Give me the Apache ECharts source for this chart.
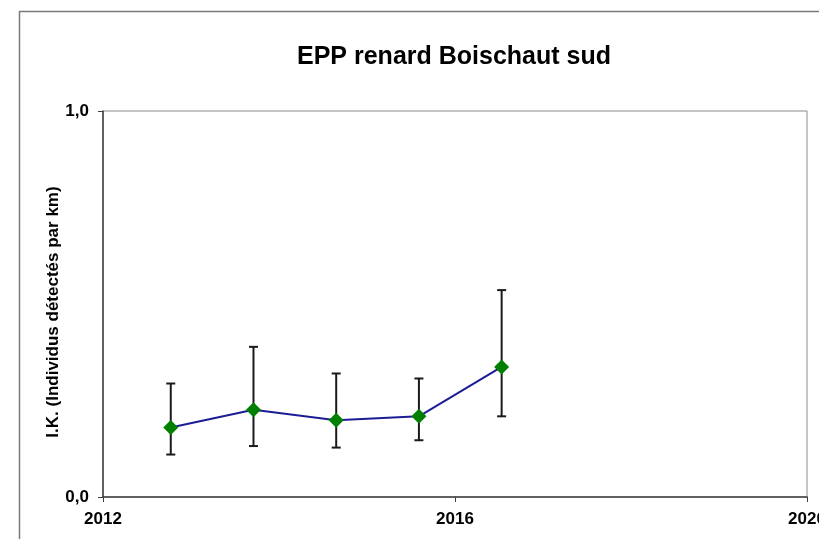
<!DOCTYPE html>
<html>
<head>
<meta charset="utf-8">
<script src="https://cdn.jsdelivr.net/npm/echarts@6/dist/echarts.min.js"></script>
<style>
html,body{margin:0;padding:0;background:#fff;}
#chart{width:819px;height:539px;}
</style>
</head>
<body>
<div id="chart"></div>
<script>
const title = 'EPP renard Boischaut sud';
const yAxisName = 'I.K. (Individus détectés par km)';
const years = [2012.77, 2013.71, 2014.65, 2015.59, 2016.53];
const values = [0.180, 0.226, 0.199, 0.209, 0.337];
const errLow = [0.110, 0.132, 0.128, 0.147, 0.209];
const errHigh = [0.294, 0.389, 0.320, 0.307, 0.536];

const chart = echarts.init(document.getElementById('chart'));
const lineData = years.map((x, i) => [x, values[i]]);
const errData = years.map((x, i) => [x, errLow[i], errHigh[i]]);

chart.setOption({
  animation: false,
  backgroundColor: '#ffffff',
  title: {
    text: title, left: 449, top: 40, textAlign: 'center',
    textStyle: {fontFamily: 'Liberation Sans, Arial', fontWeight: 'bold', fontSize: 25, color: '#000'}
  },
  graphic: [{
    type: 'rect', shape: {x: 19.5, y: 11.5, width: 900, height: 700},
    style: {fill: 'none', stroke: '#7a7a7a', lineWidth: 1.5}, silent: true, z: -1
  }],
  grid: {left: 103, right: 12, top: 111, bottom: 42, show: true, borderColor: '#8a8a8a', borderWidth: 1,
    containLabel: false, outerBoundsMode: 'none'},
  xAxis: {
    type: 'value', min: 2012, max: 2020, interval: 4,
    axisLine: {show: true, lineStyle: {color: '#404040', width: 1.5}},
    axisTick: {show: true, length: 5, inside: false, lineStyle: {color: '#404040'}},
    axisLabel: {fontFamily: 'Liberation Sans, Arial', fontWeight: 'bold', fontSize: 17, color: '#000', margin: 14,
      showMaxLabel: true, showMinLabel: true, hideOverlap: false, formatter: v => String(Math.round(v))},
    splitLine: {show: false}
  },
  yAxis: {
    type: 'value', min: 0, max: 1, interval: 1,
    name: yAxisName, nameLocation: 'middle', nameGap: 41, nameRotate: 90, nameMoveOverlap: false,
    nameTextStyle: {fontFamily: 'Liberation Sans, Arial', fontWeight: 'bold', fontSize: 17, color: '#000',
      padding: [0, 16, 0, 0]},
    axisLine: {show: true, lineStyle: {color: '#404040', width: 1.5}},
    axisTick: {show: true, length: 5, lineStyle: {color: '#404040'}},
    axisLabel: {fontFamily: 'Liberation Sans, Arial', fontWeight: 'bold', fontSize: 17, color: '#000', margin: 14,
      formatter: v => v.toFixed(1).replace('.', ',')},
    splitLine: {show: false}
  },
  series: [
    {
      type: 'custom', data: errData, z: 2,
      renderItem: function (params, api) {
        const x = api.value(0);
        const lo = api.coord([x, api.value(1)]);
        const hi = api.coord([x, api.value(2)]);
        const hw = 4.5;
        const st = {stroke: '#1a1a1a', lineWidth: 2, fill: 'none'};
        return {type: 'group', children: [
          {type: 'line', shape: {x1: lo[0], y1: lo[1], x2: hi[0], y2: hi[1]}, style: st},
          {type: 'line', shape: {x1: lo[0] - hw, y1: lo[1], x2: lo[0] + hw, y2: lo[1]}, style: st},
          {type: 'line', shape: {x1: hi[0] - hw, y1: hi[1], x2: hi[0] + hw, y2: hi[1]}, style: st}
        ]};
      }
    },
    {
      type: 'line', data: lineData, z: 3,
      lineStyle: {color: '#1c1c96', width: 2},
      symbol: 'diamond', symbolSize: 15,
      itemStyle: {color: '#008000', borderWidth: 0}
    }
  ]
});
</script>
</body>
</html>
